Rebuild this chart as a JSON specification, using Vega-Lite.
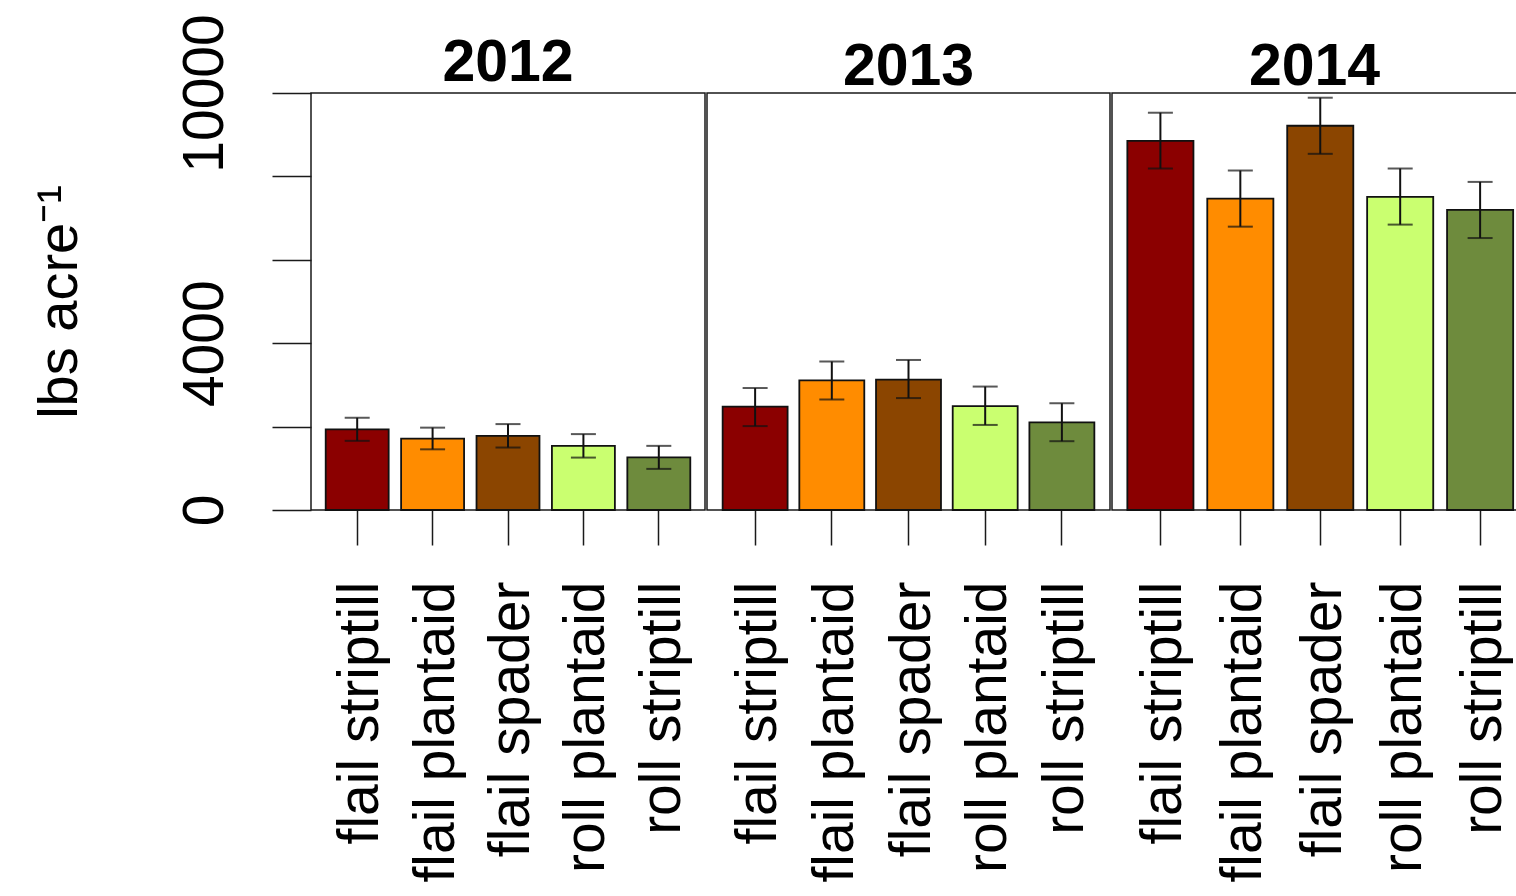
{
  "$schema": "https://vega.github.io/schema/vega-lite/v6.json",
  "background": "white",
  "padding": {"left": 30, "top": 12, "right": 0, "bottom": 0},
  "spacing": 0,
  "config": {
    "font": "Liberation Sans",
    "view": {"stroke": "#1a1a1a", "strokeWidth": 1.5},
    "title": {"fontSize": 59, "fontWeight": "bold", "color": "black", "baseline": "alphabetic", "anchor": "middle", "font": "Liberation Sans"},
    "axis": {"labelFont": "Liberation Sans", "titleFont": "Liberation Sans", "labelColor": "black", "titleColor": "black", "tickColor": "#1a1a1a", "tickWidth": 1.5, "grid": false, "domain": false, "labelLimit": 0, "labelOverlap": false, "labelFlush": false, "titleFontWeight": "normal"}
  },
  "datasets": {
    "d": [
      {"year": 2012, "treatment": "flail striptill", "mean": 1935, "lo": 1659, "hi": 2212},
      {"year": 2012, "treatment": "flail plantaid", "mean": 1710, "lo": 1455, "hi": 1975},
      {"year": 2012, "treatment": "flail spader", "mean": 1779, "lo": 1498, "hi": 2060},
      {"year": 2012, "treatment": "roll plantaid", "mean": 1538, "lo": 1257, "hi": 1820},
      {"year": 2012, "treatment": "roll striptill", "mean": 1260, "lo": 986, "hi": 1538},
      {"year": 2013, "treatment": "flail striptill", "mean": 2480, "lo": 2012, "hi": 2925},
      {"year": 2013, "treatment": "flail plantaid", "mean": 3110, "lo": 2650, "hi": 3560},
      {"year": 2013, "treatment": "flail spader", "mean": 3125, "lo": 2684, "hi": 3598},
      {"year": 2013, "treatment": "roll plantaid", "mean": 2490, "lo": 2040, "hi": 2960},
      {"year": 2013, "treatment": "roll striptill", "mean": 2100, "lo": 1650, "hi": 2560},
      {"year": 2014, "treatment": "flail striptill", "mean": 8854, "lo": 8189, "hi": 9527},
      {"year": 2014, "treatment": "flail plantaid", "mean": 7468, "lo": 6795, "hi": 8141},
      {"year": 2014, "treatment": "flail spader", "mean": 9215, "lo": 8541, "hi": 9887},
      {"year": 2014, "treatment": "roll plantaid", "mean": 7508, "lo": 6844, "hi": 8189},
      {"year": 2014, "treatment": "roll striptill", "mean": 7195, "lo": 6522, "hi": 7868}
    ]
  },
  "hconcat": [
    {
      "width": 394, "height": 417,
      "title": {"text": "2012", "offset": -79},
      "data": {"name": "d"},
      "transform": [{"filter": "datum.year == 2012"}],
      "encoding": {
        "x": {"field": "treatment", "type": "nominal", "sort": ["flail striptill", "flail plantaid", "flail spader", "roll plantaid", "roll striptill"],
          "scale": {"paddingInner": 0.165, "paddingOuter": 0.195},
          "axis": {"title": null, "tickSize": 35, "labelAngle": 270, "labelAlign": "right", "labelBaseline": "middle", "labelPadding": 36, "labelFontSize": 57, "labelOffset": 4}}
      },
      "layer": [
        {"mark": {"type": "bar", "stroke": "#111111", "strokeWidth": 1.8},
          "encoding": {
            "y": {"field": "mean", "type": "quantitative", "title": "lbs acre⁻¹", "scale": {"domain": [0, 10000], "nice": false, "zero": true},
              "axis": {"values": [0, 2000, 4000, 6000, 8000, 10000], "tickSize": 39, "labelExpr": "datum.value == 0 || datum.value == 4000 || datum.value == 10000 ? datum.value + '' : ''", "labelAngle": 270, "labelAlign": "center", "labelBaseline": "alphabetic", "labelPadding": 50, "labelFontSize": 57, "title": "lbs acre⁻¹", "titleFontSize": 56, "titleBaseline": "alphabetic", "titlePadding": 100, "titleAngle": 270}},
            "color": {"field": "treatment", "type": "nominal", "scale": {"domain": ["flail striptill", "flail plantaid", "flail spader", "roll plantaid", "roll striptill"], "range": ["#8B0000", "#FF8C00", "#8B4500", "#CAFF70", "#6E8B3D"]}, "legend": null}
          }},
        {"mark": {"type": "rule", "color": "#111111", "strokeWidth": 2},
          "encoding": {"y": {"field": "lo", "type": "quantitative", "title": "lbs acre⁻¹"}, "y2": {"field": "hi"}}},
        {"mark": {"type": "tick", "color": "#111111", "thickness": 2, "size": 25},
          "encoding": {"y": {"field": "lo", "type": "quantitative", "title": "lbs acre⁻¹"}}},
        {"mark": {"type": "tick", "color": "#111111", "thickness": 2, "size": 25},
          "encoding": {"y": {"field": "hi", "type": "quantitative", "title": "lbs acre⁻¹"}}}
      ]
    },
    {
      "width": 403, "height": 417,
      "title": {"text": "2013", "offset": -4},
      "data": {"name": "d"},
      "transform": [{"filter": "datum.year == 2013"}],
      "encoding": {
        "x": {"field": "treatment", "type": "nominal", "sort": ["flail striptill", "flail plantaid", "flail spader", "roll plantaid", "roll striptill"],
          "scale": {"paddingInner": 0.153, "paddingOuter": 0.204},
          "axis": {"title": null, "tickSize": 35, "labelAngle": 270, "labelAlign": "right", "labelBaseline": "middle", "labelPadding": 36, "labelFontSize": 57, "labelOffset": 4}}
      },
      "layer": [
        {"mark": {"type": "bar", "stroke": "#111111", "strokeWidth": 1.8},
          "encoding": {
            "y": {"field": "mean", "type": "quantitative", "scale": {"domain": [0, 10000], "nice": false, "zero": true}, "axis": null},
            "color": {"field": "treatment", "type": "nominal", "scale": {"domain": ["flail striptill", "flail plantaid", "flail spader", "roll plantaid", "roll striptill"], "range": ["#8B0000", "#FF8C00", "#8B4500", "#CAFF70", "#6E8B3D"]}, "legend": null}
          }},
        {"mark": {"type": "rule", "color": "#111111", "strokeWidth": 2},
          "encoding": {"y": {"field": "lo", "type": "quantitative", "axis": null}, "y2": {"field": "hi"}}},
        {"mark": {"type": "tick", "color": "#111111", "thickness": 2, "size": 25},
          "encoding": {"y": {"field": "lo", "type": "quantitative", "axis": null}}},
        {"mark": {"type": "tick", "color": "#111111", "thickness": 2, "size": 25},
          "encoding": {"y": {"field": "hi", "type": "quantitative", "axis": null}}}
      ]
    },
    {
      "width": 405, "height": 417,
      "title": {"text": "2014", "offset": -4},
      "data": {"name": "d"},
      "transform": [{"filter": "datum.year == 2014"}],
      "encoding": {
        "x": {"field": "treatment", "type": "nominal", "sort": ["flail striptill", "flail plantaid", "flail spader", "roll plantaid", "roll striptill"],
          "scale": {"paddingInner": 0.173, "paddingOuter": 0.12, "align": 0.8},
          "axis": {"title": null, "tickSize": 35, "labelAngle": 270, "labelAlign": "right", "labelBaseline": "middle", "labelPadding": 36, "labelFontSize": 57, "labelOffset": 4}}
      },
      "layer": [
        {"mark": {"type": "bar", "stroke": "#111111", "strokeWidth": 1.8},
          "encoding": {
            "y": {"field": "mean", "type": "quantitative", "scale": {"domain": [0, 10000], "nice": false, "zero": true}, "axis": null},
            "color": {"field": "treatment", "type": "nominal", "scale": {"domain": ["flail striptill", "flail plantaid", "flail spader", "roll plantaid", "roll striptill"], "range": ["#8B0000", "#FF8C00", "#8B4500", "#CAFF70", "#6E8B3D"]}, "legend": null}
          }},
        {"mark": {"type": "rule", "color": "#111111", "strokeWidth": 2},
          "encoding": {"y": {"field": "lo", "type": "quantitative", "axis": null}, "y2": {"field": "hi"}}},
        {"mark": {"type": "tick", "color": "#111111", "thickness": 2, "size": 25},
          "encoding": {"y": {"field": "lo", "type": "quantitative", "axis": null}}},
        {"mark": {"type": "tick", "color": "#111111", "thickness": 2, "size": 25},
          "encoding": {"y": {"field": "hi", "type": "quantitative", "axis": null}}}
      ]
    }
  ]
}
